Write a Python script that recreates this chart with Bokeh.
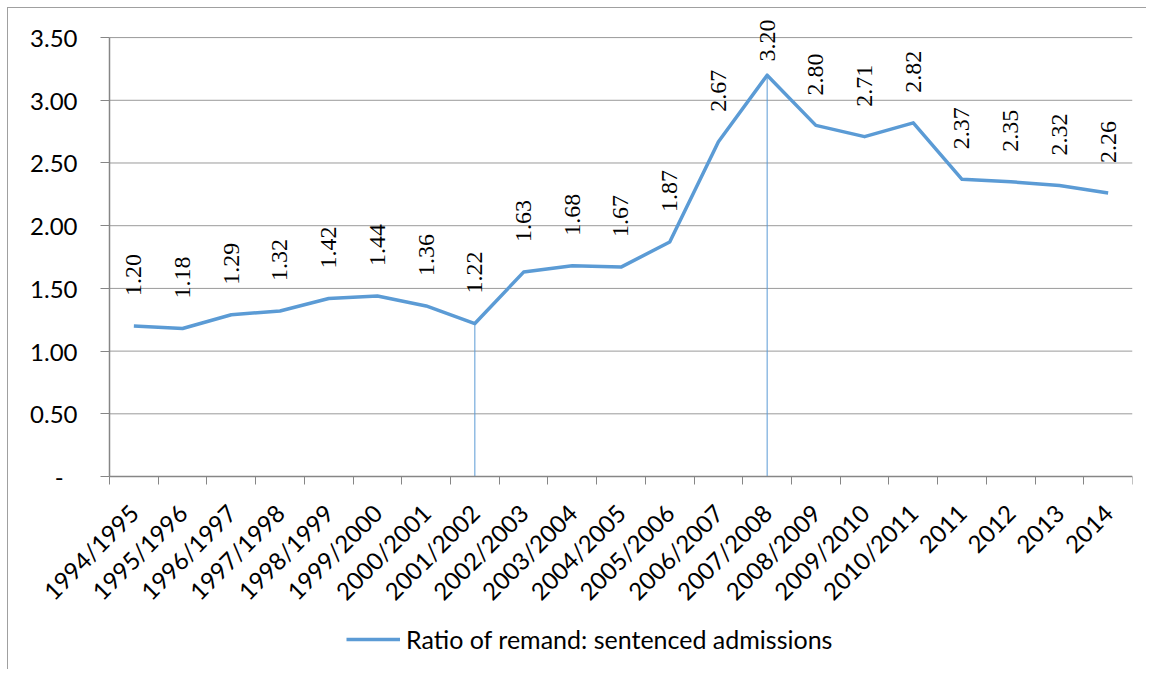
import numpy as np
from bokeh.plotting import figure
from bokeh.models import (ColumnDataSource, Range1d, FixedTicker, LinearAxis,
                          NumeralTickFormatter, LabelSet, Legend, LegendItem)
from bokeh.embed import file_html
from bokeh.resources import INLINE

categories = ["1994/1995", "1995/1996", "1996/1997", "1997/1998", "1998/1999",
              "1999/2000", "2000/2001", "2001/2002", "2002/2003", "2003/2004",
              "2004/2005", "2005/2006", "2006/2007", "2007/2008", "2008/2009",
              "2009/2010", "2010/2011", "2011", "2012", "2013", "2014"]
ratio = [1.20, 1.18, 1.29, 1.32, 1.42, 1.44, 1.36, 1.22, 1.63, 1.68, 1.67,
         1.87, 2.67, 3.20, 2.80, 2.71, 2.82, 2.37, 2.35, 2.32, 2.26]
drop_categories = ["2001/2002", "2007/2008"]
y_ticks = [0, 0.5, 1.0, 1.5, 2.0, 2.5, 3.0, 3.5]
series_name = "Ratio of remand: sentenced admissions"

FONT = "Lato"
FS = "24px"
BLUE = "#5B9BD5"
AX = "#868686"

n = len(categories)
xc = np.arange(n) + 0.5
labels_txt = ["%.2f" % v for v in ratio]

PLOT_W = 1023                       # width of the category area in px
PX_PER_CAT = PLOT_W / n
LEFT_PX = 101                       # room left of the value axis for its labels
X_LEFT = -LEFT_PX / PX_PER_CAT
PX_PER_UNIT = 439 / 3.5
Y_TOP = 3.70                        # head-room above the 3.50 line for data labels
Y_BOT = -193 / PX_PER_UNIT          # room below zero for axis labels and legend
FRAME_H = int(round((Y_TOP - Y_BOT) * PX_PER_UNIT))
# labels sit ~30px above the point, but are kept inside the chart near the top
offs = [min(30.0, (3.5 - v) * PX_PER_UNIT - 24) for v in ratio]

src = ColumnDataSource(dict(x=xc, y=ratio, t=labels_txt, off=offs))

p = figure(frame_width=PLOT_W + LEFT_PX, frame_height=FRAME_H, output_backend="svg",
           toolbar_location=None,
           x_range=Range1d(X_LEFT, n), y_range=Range1d(Y_BOT, Y_TOP),
           min_border_left=0, min_border_right=14, min_border_top=4,
           min_border_bottom=0, x_axis_location=None, y_axis_location=None)
p.styles = {"border-left": "1px solid #a0a0a0", "border-top": "1px solid #a0a0a0",
            "margin-left": "7px", "margin-top": "7px"}
p.outline_line_color = None
p.background_fill_color = "white"
p.border_fill_color = "white"
p.xgrid.visible = False
p.ygrid.visible = False

# horizontal gridlines across the category area
gsrc = ColumnDataSource(dict(y=[t for t in y_ticks if t > 0],
                             x0=[0] * (len(y_ticks) - 1), x1=[n] * (len(y_ticks) - 1)))
p.segment(x0="x0", y0="y", x1="x1", y1="y", source=gsrc, line_color="#9a9a9a", line_width=1)

# x axis at y = 0: labels at centres, ticks at category boundaries
xax = LinearAxis(ticker=FixedTicker(ticks=list(xc), minor_ticks=list(range(n + 1))),
                 fixed_location=0, bounds=(0, n))
xax.major_label_overrides = {float(x): c for x, c in zip(xc, categories)}
xax.major_label_orientation = np.pi / 4
xax.major_tick_out = 0
xax.major_tick_in = 0
xax.minor_tick_out = 8
xax.minor_tick_in = 0
xax.minor_tick_line_color = AX
xax.axis_line_color = AX
xax.axis_line_width = 1.5
xax.major_label_text_font = FONT
xax.major_label_text_font_size = FS
xax.major_label_text_color = "black"
xax.major_label_standoff = 24
p.add_layout(xax, "below")

yax = LinearAxis(ticker=FixedTicker(ticks=y_ticks),
                 formatter=NumeralTickFormatter(format="0.00"),
                 fixed_location=0, bounds=(0, 3.5))
yax.major_label_overrides = {0: "-\u2007"}
yax.major_tick_out = 9
yax.major_tick_in = 0
yax.minor_tick_out = 0
yax.minor_tick_in = 0
yax.major_tick_line_color = AX
yax.axis_line_color = AX
yax.axis_line_width = 1.5
yax.major_label_text_font = FONT
yax.major_label_text_font_size = FS
yax.major_label_text_color = "black"
yax.major_label_standoff = 23
p.add_layout(yax, "left")

# drop lines
d_idx = [categories.index(c) for c in drop_categories]
dsrc = ColumnDataSource(dict(x=[xc[i] for i in d_idx], y0=[0] * len(d_idx),
                             y1=[ratio[i] for i in d_idx]))
p.segment(x0="x", y0="y0", x1="x", y1="y1", source=dsrc, line_color=BLUE, line_width=1)

r = p.line("x", "y", source=src, line_color=BLUE, line_width=3.5, line_join="round")

lbl = LabelSet(x="x", y="y", text="t", source=src, angle=np.pi / 2,
               text_align="left", text_baseline="middle", y_offset="off",
               text_font=FONT, text_font_size=FS, text_color="black")
p.add_layout(lbl)

leg = Legend(items=[LegendItem(label=series_name, renderers=[r])],
             location=(LEFT_PX + 237, 15), orientation="horizontal",
             label_text_font=FONT, label_text_font_size="25px", label_text_color="black",
             glyph_width=54, glyph_height=20, label_standoff=6,
             border_line_color=None, background_fill_alpha=0,
             margin=0, padding=6)
p.add_layout(leg, "center")

open("out.html", "w").write(file_html(p, INLINE))
